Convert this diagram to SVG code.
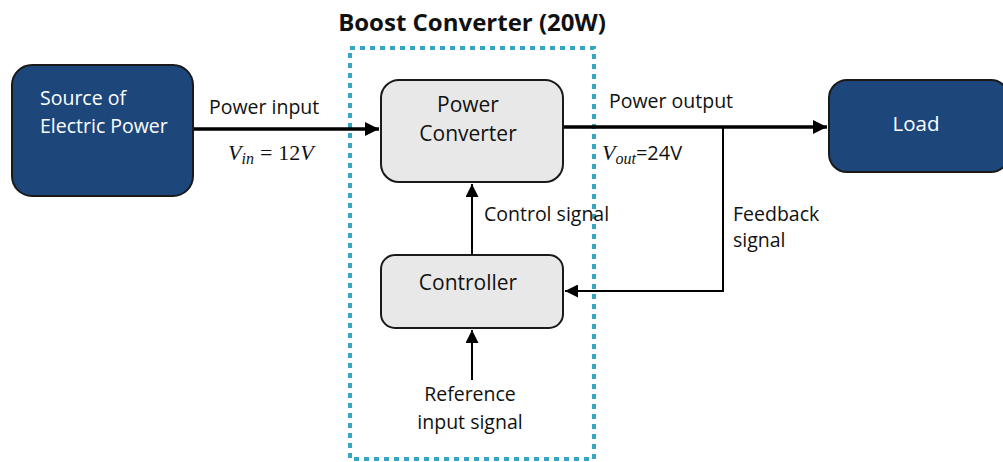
<svg xmlns="http://www.w3.org/2000/svg" width="1003" height="462" viewBox="0 0 1003 462">
<defs>
<style>
.t{font-family:"Open Sans","Noto Sans",sans-serif;font-size:19.5px;fill:#111;font-style:normal}
.b{font-size:21px}
.w{fill:#fff}
.dark{fill:#1d477b;stroke:#1a1a1a;stroke-width:2}
.gray{fill:#e8e8e8;stroke:#1a1a1a;stroke-width:2}
.m{font-family:"Liberation Serif","DejaVu Serif",serif;font-style:italic;font-size:22px;fill:#111}
.mr{font-family:"Liberation Serif","DejaVu Serif",serif;font-style:normal;font-size:22px;fill:#111}
.sub{font-size:16px}
.ln{fill:none;stroke:#000}
</style>
<marker id="ah" viewBox="0 0 10 10" refX="10" refY="5" markerWidth="4.5" markerHeight="4" markerUnits="strokeWidth" orient="auto"><path d="M0,0L10,5L0,10z" fill="#000"/></marker>
<marker id="ah2" viewBox="0 0 10 10" refX="10" refY="5" markerWidth="7" markerHeight="6.5" markerUnits="strokeWidth" orient="auto"><path d="M0,0L10,5L0,10z" fill="#000"/></marker>
</defs>
<rect width="1003" height="462" fill="#fff"/>
<g id="boundary">
<rect x="350" y="48" width="244" height="411" fill="none" stroke="#36a5c4" stroke-width="4" stroke-dasharray="5 5"/>
<text x="472" y="31" class="t" style="font-size:24px;font-weight:bold" text-anchor="middle">Boost Converter (20W)</text>
</g>
<g id="connectors">
<path class="ln" d="M194,129H379" stroke-width="3.5" marker-end="url(#ah)"/>
<path class="ln" d="M563,127H827" stroke-width="3.5" marker-end="url(#ah)"/>
<path class="ln" d="M723,127V291H565" stroke-width="2" marker-end="url(#ah2)"/>
<path class="ln" d="M472,255V184" stroke-width="2" marker-end="url(#ah2)"/>
<path class="ln" d="M472,380V330" stroke-width="2" marker-end="url(#ah2)"/>
</g>
<g id="source">
<rect x="12" y="65" width="181" height="131" rx="20" class="dark"/>
<text x="40" y="105" class="t w">Source of</text>
<text x="40" y="133" class="t w">Electric Power</text>
</g>
<g id="power-converter">
<rect x="381" y="80" width="182" height="102" rx="18" class="gray"/>
<text x="468" y="112" class="t b" text-anchor="middle">Power</text>
<text x="468" y="141" class="t b" text-anchor="middle">Converter</text>
</g>
<g id="controller">
<rect x="381" y="255" width="182" height="73" rx="14" class="gray"/>
<text x="468" y="290" class="t b" text-anchor="middle">Controller</text>
</g>
<g id="load">
<rect x="829" y="80" width="180" height="92" rx="18" class="dark"/>
<text x="916" y="131" class="t w" style="font-size:20.5px" text-anchor="middle">Load</text>
</g>
<g id="labels">
<text x="209" y="114" class="t">Power input</text>
<text x="228" y="160" class="m">V<tspan class="sub" dy="4">in</tspan><tspan class="mr" dy="-4" dx="6">=</tspan><tspan class="mr" dx="6">12</tspan>V</text>
<text x="609" y="108" class="t">Power output</text>
<text x="602" y="160" class="m">V<tspan class="sub" dy="4">out</tspan><tspan class="t" dy="-4" style="font-size:20px">=24V</tspan></text>
<text x="484" y="221" class="t">Control signal</text>
<text x="733" y="221" class="t">Feedback</text>
<text x="733" y="247" class="t">signal</text>
<text x="470" y="401" class="t" text-anchor="middle">Reference</text>
<text x="470" y="429" class="t" text-anchor="middle">input signal</text>
</g>
</svg>
